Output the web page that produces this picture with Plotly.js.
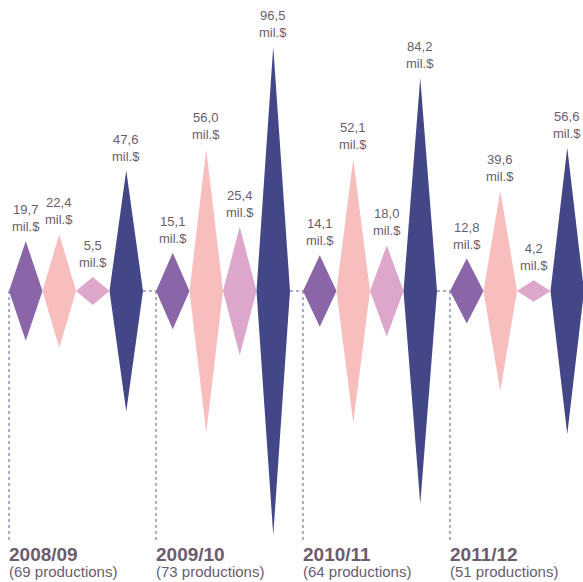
<!DOCTYPE html>
<html><head><meta charset="utf-8">
<script src="https://cdn.plot.ly/plotly-3.0.1.min.js"></script>
<style>html,body{margin:0;padding:0;background:#fff}#c{width:583px;height:582px}</style>
</head><body><div id="c"></div>
<script>
const years = ['2008/09','2009/10','2010/11','2011/12'];
const productions = [69,73,64,51];
const seriesA = [19.7,15.1,14.1,12.8];
const seriesB = [22.4,56.0,52.1,39.6];
const seriesC = [5.5,25.4,18.0,4.2];
const seriesD = [47.6,96.5,84.2,56.6];
const colors = ['#8a66a9','#f8bdbd','#dda7cb','#434787'];
const allSeries = [seriesA, seriesB, seriesC, seriesD];

const G = 147/33.5;       // group spacing in diamond widths
const textColor = '#6c5c6e';
const lineColor = '#5a5ca0';
const fmt = v => v.toFixed(1).replace('.', ',');

const traces = [];
const annotations = [];

// dotted guide lines
const lx = [], ly = [];
years.forEach((y, g) => {
  const s = g*G;
  lx.push(s, s, null); ly.push(0, -99.5, null);
  const end = s + 4;
  const next = (g < years.length-1) ? (g+1)*G : 17.2;
  lx.push(end, next, null); ly.push(0, 0, null);
});
traces.push({x: lx, y: ly, mode: 'lines', line: {color: lineColor, width: 1, dash: 'dot'}, hoverinfo: 'skip', showlegend: false});

allSeries.forEach((vals, k) => {
  const xs = [], ys = [];
  vals.forEach((v, g) => {
    const cx = g*G + k + 0.5;
    xs.push(cx-0.5, cx, cx+0.5, cx, cx-0.5, null);
    ys.push(0, v, 0, -v, 0, null);
    annotations.push({x: cx, y: v, xref: 'x', yref: 'y', yanchor: 'bottom', yshift: 5,
      showarrow: false, text: fmt(v) + '<br>mil.$', align: 'center',
      font: {family: 'Liberation Sans, Arial, sans-serif', size: 13, color: textColor}});
  });
  traces.push({x: xs, y: ys, mode: 'lines', fill: 'toself', fillcolor: colors[k],
    line: {width: 0, color: colors[k]}, hoverinfo: 'skip', showlegend: false});
});

years.forEach((y, g) => {
  annotations.push({x: g*G, y: -104.2, xref: 'x', yref: 'y', xanchor: 'left', yanchor: 'middle', xshift: -2,
    showarrow: false, text: '<b>' + y + '</b>',
    font: {family: 'Liberation Sans, Arial, sans-serif', size: 19, color: textColor}});
  annotations.push({x: g*G, y: -111.0, xref: 'x', yref: 'y', xanchor: 'left', yanchor: 'middle', xshift: -2,
    showarrow: false, text: '(' + productions[g] + ' productions)',
    font: {family: 'Liberation Sans, Arial, sans-serif', size: 15, color: textColor}});
});

const layout = {
  width: 583, height: 582,
  margin: {l: 0, r: 0, t: 0, b: 0},
  paper_bgcolor: '#ffffff', plot_bgcolor: '#ffffff',
  xaxis: {range: [-9/33.5, 583/33.5 - 9/33.5], visible: false, fixedrange: true},
  yaxis: {range: [-115, 115], visible: false, fixedrange: true},
  annotations: annotations,
  showlegend: false
};
Plotly.newPlot('c', traces, layout, {staticPlot: true});
</script>
</body></html>
